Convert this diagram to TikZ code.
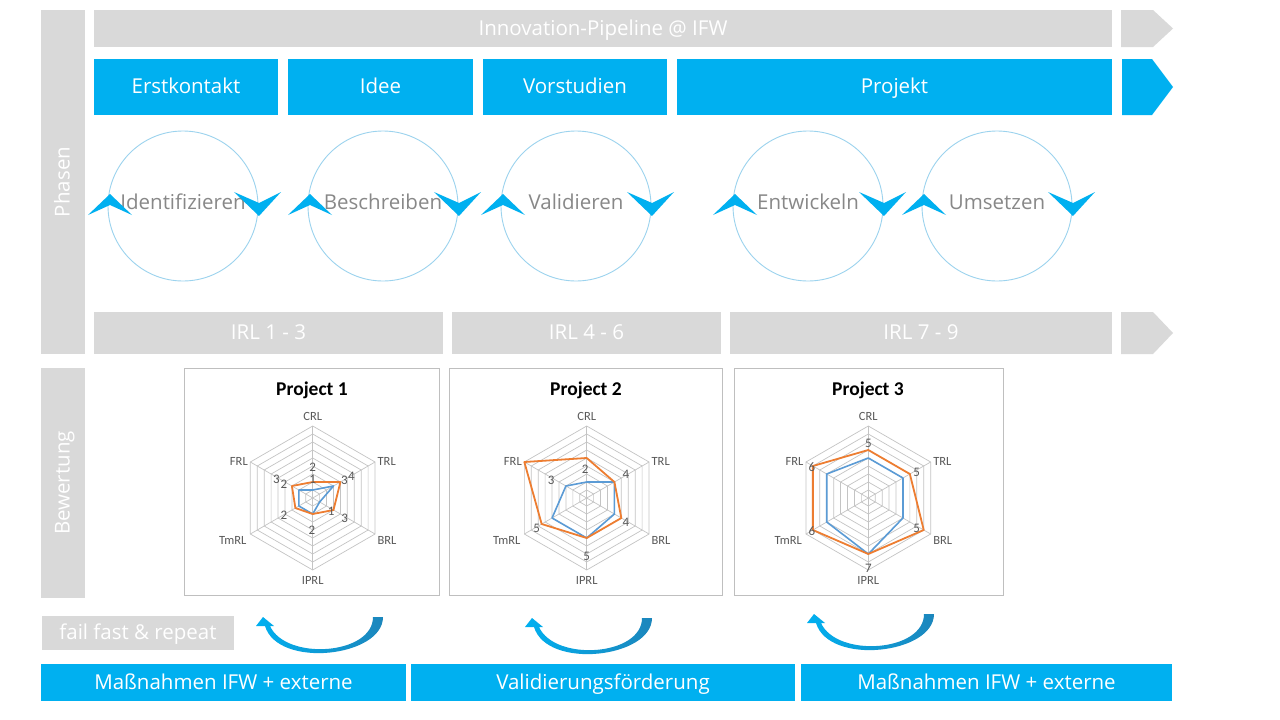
\documentclass[tikz,border=0pt]{standalone}
\usepackage{fontspec}
\setmainfont{Open Sans}
\newfontfamily\chartfont{Carlito}
\usepackage{tikz}

\definecolor{ifwblue}{HTML}{00B0F0}
\definecolor{ifwgray}{HTML}{D9D9D9}
\definecolor{ringblue}{HTML}{9CD3EE}
\definecolor{labelgray}{HTML}{888888}
\definecolor{axisgray}{HTML}{595959}
\definecolor{gridgray}{HTML}{C4C4C4}
\definecolor{chartframe}{HTML}{BFBFBF}
\definecolor{seriesblue}{HTML}{5B9BD5}
\definecolor{seriesorange}{HTML}{ED7D31}
\definecolor{arrowdark}{HTML}{1C86BC}

\newcommand{\radargrid}[1]{%
  \foreach \r in {1,...,9}
    \draw[gridline] (90:\r) -- (30:\r) -- (-30:\r) -- (-90:\r) -- (-150:\r) -- (150:\r) -- cycle;
  \foreach \a in {90,30,-30,-90,-150,150}
    \draw[gridline] (0,0) -- (\a:9);
  \node[axislabel, anchor=south] (#1crl) at (90:9.5) {CRL};
  \node[axislabel, anchor=west] (#1trl) at (30:9.2) {TRL};
  \node[axislabel, anchor=north west] (#1brl) at (-30:9.2) {BRL};
  \node[axislabel, anchor=north] (#1iprl) at (-90:9.7) {IPRL};
  \node[axislabel, anchor=north east] (#1tmrl) at (-150:9.4) {TmRL};
  \node[axislabel, anchor=east] (#1frl) at (150:9.2) {FRL};
}
\newcommand{\radarline}[7]{%
  \draw[#1] (90:#2) -- (30:#3) -- (-30:#4) -- (-90:#5) -- (-150:#6) -- (150:#7) -- cycle;}
\newcommand{\loopback}[1]{%
  \shade[loopback, shift={#1}] (0,0) .. controls (0,40) and (-105,52) .. (-118,9)
    -- (-127,9) -- (-120,0) -- (-109,9) -- (-113,9)
    .. controls (-97,44) and (-10,38) .. (-10,0) -- cycle;}

\begin{document}
\begin{tikzpicture}[x=1pt, y=-1pt,
    bartext/.style = {inner sep=0pt, text=white, font=\fontsize{20.5}{24}\selectfont,
      text height=15pt, text depth=2pt},
    bluebar/.style = {bartext, fill=ifwblue},
    graybar/.style = {bartext, fill=ifwgray},
    phasecircle/.style = {circle, draw=ringblue, line width=0.9pt, minimum size=150pt, inner sep=0pt,
      text=labelgray, font=\fontsize{20.5}{24}\selectfont, text height=15pt, text depth=9pt},
    turnmark/.style = {fill=ifwblue},
    chartbox/.style = {draw=chartframe, fill=white, line width=0.8pt, inner sep=0pt},
    charttitle/.style = {font=\chartfont\bfseries\fontsize{19.5}{22}\selectfont, text=black},
    axislabel/.style = {font=\chartfont\fontsize{12.5}{14}\selectfont, text=axisgray, inner sep=1pt},
    datalabel/.style = {font=\chartfont\fontsize{13}{14}\selectfont, text=axisgray, inner sep=0pt},
    gridline/.style = {draw=gridgray, line width=0.7pt},
    blueseries/.style = {draw=seriesblue, line width=1.6pt, line join=round},
    orangeseries/.style = {draw=seriesorange, line width=1.8pt, line join=round},
    loopback/.style = {left color=ifwblue, right color=arrowdark}]
    \useasboundingbox [fill=white] (0,0) rectangle (1280,720);

    \node [graybar, rotate=90, minimum width=344pt, minimum height=44pt] (phasen) at (63,182) {Phasen};
    \node [graybar, rotate=90, minimum width=230pt, minimum height=44pt] (bewertung) at (63,483) {Bewertung};

    \node [graybar, minimum width=1018pt, minimum height=37pt] (pipeline) at (603,28.5) {Innovation-Pipeline @ IFW};
    \fill [ifwgray] (1121,10) -- (1153,10) -- (1173,28.5) -- (1153,47) -- (1121,47) -- cycle;

    \node [bluebar, minimum width=184pt, minimum height=56pt] (erstkontakt) at (186,87) {Erstkontakt};
    \node [bluebar, minimum width=185pt, minimum height=56pt] (idee) at (380.5,87) {Idee};
    \node [bluebar, minimum width=184pt, minimum height=56pt] (vorstudien) at (575,87) {Vorstudien};
    \node [bluebar, minimum width=435pt, minimum height=56pt] (projekt) at (894.5,87) {Projekt};
    \fill [ifwblue] (1122,59) -- (1152,59) -- (1173,87) -- (1152,115) -- (1122,115) -- cycle;

    \node [phasecircle] (identifizieren) at (183,206) {Identifizieren};
    \node [phasecircle] (beschreiben) at (383,206) {Beschreiben};
    \node [phasecircle] (validieren) at (576,206) {Validieren};
    \node [phasecircle] (entwickeln) at (808,206) {Entwickeln};
    \node [phasecircle] (umsetzen) at (997,206) {Umsetzen};
    \foreach \cx in {183,383,576,808,997} {
        \fill [turnmark] ({\cx-95},215) -- ({\cx-73},194) -- ({\cx-51},215) -- ({\cx-73},205) -- cycle;
        \fill [turnmark] ({\cx+51},192) -- ({\cx+76},216) -- ({\cx+98},192) -- ({\cx+76},203) -- cycle;
    }

    \node [graybar, minimum width=349pt, minimum height=42pt] (irlA) at (268.5,333) {IRL 1 - 3};
    \node [graybar, minimum width=269pt, minimum height=42pt] (irlB) at (586.5,333) {IRL 4 - 6};
    \node [graybar, minimum width=382pt, minimum height=42pt] (irlC) at (921,333) {IRL 7 - 9};
    \fill [ifwgray] (1121,312) -- (1153,312) -- (1173,333) -- (1153,354) -- (1121,354) -- cycle;

    \node [chartbox, minimum width=255pt, minimum height=227pt] (chartA) at (311.5,481.5) {};
    \node [charttitle] (titleA) at (312,390) {Project 1};
    \begin{scope}[shift={(312.7,498)}, x=8pt, y=8pt]
        \radargrid{a}
        \radarline{blueseries}{1}{3}{1}{2}{2}{2}
        \radarline{orangeseries}{2}{4}{3}{2}{2.5}{3}
        \node [datalabel] (aCrlOrange) at (0,3.85) {2};
        \node [datalabel] (aCrlBlue) at (0,2.3) {1};
        \node [datalabel] (aTrlBlue) at (3.95,2.2) {3};
        \node [datalabel] (aTrlOrange) at (4.85,2.75) {4};
        \node [datalabel] (aBrlBlue) at (2.3,-1.7) {1};
        \node [datalabel] (aBrlOrange) at (4,-2.6) {3};
        \node [datalabel] (aIprlBlue) at (-0.1,-4) {2};
        \node [datalabel] (aTmrlBlue) at (-3.6,-2.2) {2};
        \node [datalabel] (aFrlOrange) at (-4.55,2.3) {3};
        \node [datalabel] (aFrlBlue) at (-3.6,1.75) {2};
    \end{scope}

    \node [chartbox, minimum width=273pt, minimum height=227pt] (chartB) at (585.5,481.5) {};
    \node [charttitle] (titleB) at (586,390) {Project 2};
    \begin{scope}[shift={(586.7,498)}, x=8pt, y=8pt]
        \radargrid{b}
        \radarline{blueseries}{2}{4}{4}{5}{5}{3}
        \radarline{orangeseries}{5}{4}{5}{5}{6.5}{9}
        \node [datalabel] (bCrlBlue) at (-0.2,3.65) {2};
        \node [datalabel] (bTrlBlue) at (4.9,2.9) {4};
        \node [datalabel] (bBrlBlue) at (4.9,-3.1) {4};
        \node [datalabel] (bIprlBlue) at (0,-7.3) {5};
        \node [datalabel] (bTmrlBlue) at (-6.25,-3.75) {5};
        \node [datalabel] (bFrlBlue) at (-4.45,2.15) {3};
    \end{scope}

    \node [chartbox, minimum width=269pt, minimum height=227pt] (chartC) at (868.5,481.5) {};
    \node [charttitle] (titleC) at (868,390) {Project 3};
    \begin{scope}[shift={(868.3,498)}, x=8pt, y=8pt]
        \radargrid{c}
        \radarline{blueseries}{5}{5}{5}{7}{6}{6}
        \radarline{orangeseries}{6}{6}{8}{7}{8}{8}
        \node [datalabel] (cCrlBlue) at (0,6.8) {5};
        \node [datalabel] (cTrlBlue) at (6.05,3.25) {5};
        \node [datalabel] (cBrlBlue) at (6.05,-3.75) {5};
        \node [datalabel] (cIprlBlue) at (0,-8.75) {7};
        \node [datalabel] (cTmrlBlue) at (-7.05,-4.2) {6};
        \node [datalabel] (cFrlBlue) at (-7.05,3.8) {6};
    \end{scope}

    \node [graybar, minimum width=192pt, minimum height=34pt] (failfast) at (138,633) {fail fast \& repeat};
    \loopback{(383,617)}
    \loopback{(652,618)}
    \loopback{(934,614)}

    \node [bluebar, minimum width=365pt, minimum height=37pt] (massnahmenA) at (223.5,682.5) {Maßnahmen IFW + externe};
    \node [bluebar, minimum width=384pt, minimum height=37pt] (validierung) at (603,682.5) {Validierungsförderung};
    \node [bluebar, minimum width=371pt, minimum height=37pt] (massnahmenB) at (986.5,682.5) {Maßnahmen IFW + externe};
\end{tikzpicture}
\end{document}
